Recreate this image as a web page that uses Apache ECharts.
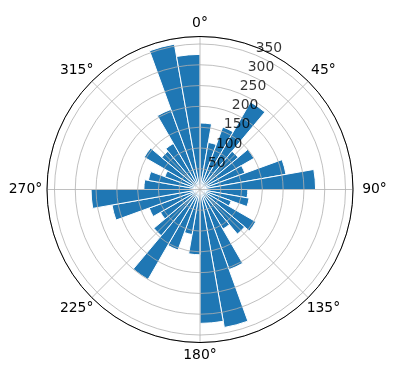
<!DOCTYPE html>
<html><head><meta charset="utf-8">
<script src="https://cdn.jsdelivr.net/npm/echarts@6/dist/echarts.min.js"></script>
<style>html,body{margin:0;padding:0;background:#fff}#c{width:396px;height:380px}</style>
</head><body><div id="c"></div>
<script>
// direction bins (degrees, clockwise from north), 10° each
const binStarts = [0,10,20,30,40,50,60,70,80,90,100,110,120,130,140,150,160,170,
                   180,190,200,210,220,230,240,250,260,270,280,290,300,310,320,330,340,350];
const counts = [160,115,160,243,120,150,115,210,278,115,120,80,155,140,110,205,337,322,
                157,110,155,250,145,110,130,215,262,135,126,90,155,120,128,205,355,325];
const radialTicks = [50,100,150,200,250,300,350];
const angleTicks = [0,45,90,135,180,225,270,315];
const RMAX = 368;
const RLABEL_ANGLE = 22.5;

const C = [200, 189.5], R = 153;
const FS = 13.9, FF = 'DejaVu Sans', LH = 16;
const font = {fontFamily:FF, fontSize:FS, color:'#000'};

// angle labels: centre each label on a circle just outside the plot (matplotlib style)
const LABEL_R = 174.5, MARGIN = -3, R0 = R + MARGIN;
const ctx = document.createElement('canvas').getContext('2d');
ctx.font = FS + 'px "' + FF + '"';
const rich = {};
angleTicks.forEach(a => {
  const w = ctx.measureText(a + '°').width;
  const t = a * Math.PI / 180;
  const sx = Math.sin(t), sy = -Math.cos(t);
  const ax = R0 * sx, ay = R0 * sy;
  const tx = LABEL_R * sx, ty = LABEL_R * sy;
  const hA = Math.abs(ax) / R < 0.3 ? 'center' : (ax > 0 ? 'left' : 'right');
  const vA = Math.abs(ay) / R < 0.3 ? 'middle' : (ay > 0 ? 'top' : 'bottom');
  let pl = 0, pr = 0, pt = 0, pb = 0;
  if (hA === 'left') pl = Math.max(0, tx - ax - w / 2);
  else if (hA === 'right') pr = Math.max(0, ax - tx - w / 2);
  if (vA === 'bottom') pb = Math.max(0, ay - ty - LH / 2);
  else if (vA === 'top') pt = Math.max(0, ty - ay - LH / 2);
  rich['a' + a] = {fontFamily:FF, fontSize:FS, color:'#000', lineHeight:LH, padding:[pt, pr, pb, pl]};
});

const chart = echarts.init(document.getElementById('c'), null, {renderer:'canvas'});
chart.setOption({
  animation:false,
  backgroundColor:'#fff',
  polar:[{center:C, radius:R},{center:C, radius:R}],
  angleAxis:[
    {polarIndex:0, type:'category', data:binStarts.map(b=>b+'-'+(b+10)), startAngle:90, clockwise:true,
     boundaryGap:true, axisLine:{show:false}, axisTick:{show:false}, axisLabel:{show:false}, splitLine:{show:false}},
    {polarIndex:1, type:'value', min:0, max:360, interval:45, startAngle:90, clockwise:true, z:10,
     axisLine:{lineStyle:{color:'#000', width:1}}, axisTick:{show:false},
     axisLabel:Object.assign({formatter:v=>'{a'+v+'|'+v+'°}', margin:MARGIN, rich:rich}, font),
     splitLine:{lineStyle:{color:'#b0b0b0', width:0.8}}}
  ],
  radiusAxis:[
    {polarIndex:0, type:'value', min:0, max:RMAX, show:false},
    {polarIndex:1, type:'value', min:0, max:RMAX, interval:50, z:9,
     axisLine:{show:false}, axisTick:{show:false}, axisLabel:{show:false},
     splitLine:{lineStyle:{color:'#b0b0b0', width:0.8}}}
  ],
  series:[
    {type:'bar', coordinateSystem:'polar', polarIndex:0, data:counts, barCategoryGap:'0%',
     itemStyle:{color:'#1f77b4', borderColor:'#fff', borderWidth:1}},
    {type:'scatter', coordinateSystem:'polar', polarIndex:1, z:12, symbolSize:5, silent:true,
     itemStyle:{color:'rgba(0,0,0,0)'},
     data:radialTicks.map(r=>[r, RLABEL_ANGLE]),
     label:Object.assign({show:true, position:[2.5,2.5], align:'left', verticalAlign:'bottom',
       formatter:p=>String(p.value[0])}, font)}
  ]
});
</script></body></html>
